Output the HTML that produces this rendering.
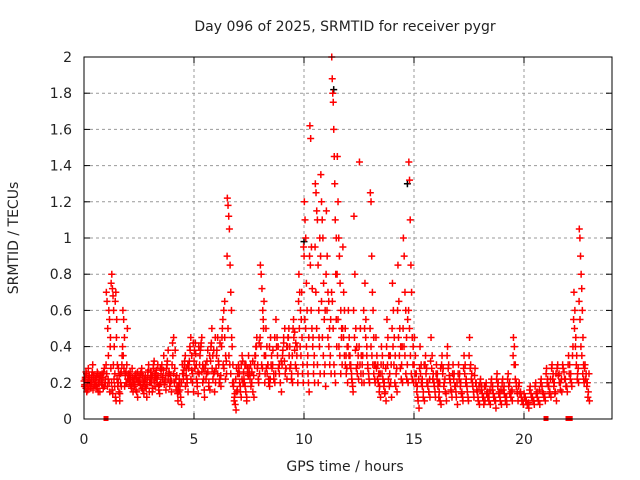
<!DOCTYPE html>
<html><head><meta charset="utf-8"><style>
body{margin:0;background:#fff}
svg{display:block;font-family:"DejaVu Sans","Liberation Sans",sans-serif}
</style></head><body>
<svg id="chart" width="640" height="480" viewBox="0 0 640 480">
<rect width="640" height="480" fill="#fff"/>
<g id="grid"></g>
<g id="black"></g>
<g id="red"></g>
<rect x="84" y="57" width="528" height="362" fill="none" stroke="#000" stroke-width="1"/>
<g id="ticks"></g>
<text x="345" y="31" font-size="14" text-anchor="middle" fill="#222">Day 096 of 2025, SRMTID for receiver pygr</text>
<text x="345" y="471" font-size="14" text-anchor="middle" fill="#222">GPS time / hours</text>
<text x="18" y="238" font-size="14" text-anchor="middle" fill="#222" transform="rotate(-90 18 238)">SRMTID / TECUs</text>
</svg>
<script>
const binWidth = 0.25;
const redBins = [
".18 .22 .26 .15 .2 .28 .24",".2 .17 .24 .3 .22 .19",".22 .18 .26 .15 .2 .24",".2 .25 .17 .28 .22",
".7 .65 .5 .35 .2 .15 .45 .75",".8 .72 .68 .6 .4 .25 .12 .1 .55",".3 .2 .15 .1 .25 .18 .35",".6 .55 .45 .25 .2 .3 .22",
".25 .2 .22 .18 .28 .15",".22 .19 .25 .15 .12 .2",".2 .25 .28 .16 .22",".18 .22 .12 .26 .3 .2",
".2 .24 .15 .28 .32 .18",".25 .22 .3 .18 .14 .2",".28 .22 .35 .2 .16",".3 .38 .25 .2 .15",
".42 .45 .28 .22 .18",".1 .15 .2 .12 .08 .25",".22 .3 .35 .28 .2 .15",".3 .4 .45 .35 .25 .15",
".38 .42 .3 .2 .14 .25",".35 .4 .45 .3 .22 .12",".3 .25 .38 .2 .16",".4 .5 .35 .25 .15 .2",
".35 .45 .3 .22 .18",".45 .55 .6 .65 .35 .25","1.22 1.18 1.12 1.05 .85 .7 .6 .4",".3 .2 .12 .08 .05 .15 .25",
".3 .25 .18 .12 .35 .2",".22 .3 .15 .1 .25 .35",".25 .3 .2 .15 .12",".35 .4 .45 .3 .2 .25",
".85 .8 .72 .6 .5 .35 .25",".5 .4 .3 .22 .18 .45",".35 .3 .25 .2 .55",".45 .4 .3 .2 .15",
".35 .42 .5 .28 .22",".45 .5 .4 .3 .25 .2",".55 .48 .42 .35 .25",".8 .7 .6 .55 .45 .3 .95",
"1.2 1.1 1.0 .75 .6 .35 .2 .15","1.62 1.55 .95 .72 .45 .3 .2","1.3 1.25 1.15 1.1 .85 .6 .4 .25","1.35 1.2 1.1 1.0 .75 .55 .3 .18",
"1.15 .9 .7 .65 .5 .35 .25","2.0 1.88 1.8 1.75 1.6 1.45 1.3 1.1 .8 .55 .4","1.45 1.2 1.0 .9 .75 .6 .45 .3",".95 .7 .6 .5 .35 .28 .2",
".6 .45 .35 .3 .25 .2 .15","1.12 .8 .5 .4 .3 .22","1.42 .5 .35 .3 .25 .2",".75 .55 .4 .3 .25 .2",
"1.25 1.2 .9 .7 .6 .45 .3 .2",".45 .35 .3 .25 .18 .12",".4 .35 .3 .2 .15 .1",".55 .45 .35 .25 .2 .12",
".75 .6 .45 .35 .25 .15",".85 .65 .5 .4 .3 .2","1.0 .9 .7 .6 .45 .3 .2","1.42 1.32 1.1 .85 .7 .45 .3 .2",
".45 .35 .25 .18 .1 .06",".4 .3 .22 .15 .1",".35 .28 .2 .15 .12",".45 .35 .25 .18 .12",
".3 .25 .2 .15 .1 .08",".35 .28 .2 .15 .1",".4 .3 .22 .16 .12",".3 .25 .18 .12 .08",
".3 .25 .2 .15 .1",".35 .3 .22 .15 .1",".45 .3 .25 .18 .12",".28 .2 .15 .1 .08",
".22 .18 .12 .08 .1",".2 .15 .12 .08",".22 .18 .12 .1 .06",".25 .2 .15 .1 .08",
".22 .18 .12 .08",".25 .2 .15 .1",".45 .4 .3 .2 .15 .1",".2 .15 .1 .08",
".12 .1 .08 .06",".18 .12 .1 .08",".2 .15 .1 .08",".22 .15 .12 .1",
".28 .22 .18 .15 .12",".3 .25 .2 .15 .1",".3 .25 .2 .15",".28 .22 .18 .15",
".35 .3 .25 .18 .4",".7 .6 .45 .35 .25 .2","1.05 1.0 .9 .8 .72 .6 .45 .3 .2",".3 .25 .2 .15 .1"
];
/* additional dense readings in the main band, same 0.25 h bins */
const redBins2 = [
".21 .19 .23 .17 .25 .2 .16 .22 .18",".23 .2 .18 .21 .26 .16 .24 .19",".19 .21 .23 .17 .25 .2 .22 .15",".24 .21 .19 .23 .26 .18 .2",
".3 .25 .18 .22 .6 .55 .4 .28",".2 .16 .14 .3 .22 .18 .65 .7 .45",".22 .18 .28 .24 .14 .2 .26 .3",".4 .35 .28 .18 .24 .26 .2 .5",
".22 .24 .2 .26 .19 .17 .23 .21",".2 .18 .24 .16 .22 .26 .21",".23 .21 .19 .26 .17 .24 .2 .14",".21 .24 .17 .19 .23 .27 .15",
".22 .26 .2 .24 .17 .3 .21 .25",".23 .27 .2 .24 .16 .19 .28",".25 .3 .23 .27 .19 .21 .24",".28 .32 .22 .26 .18 .24 .21",
".3 .35 .25 .2 .38 .16 .24",".14 .18 .22 .16 .12 .2 .3",".25 .27 .32 .18 .24 .22 .3",".28 .32 .38 .22 .27 .2 .42",
".32 .28 .36 .22 .18 .26 .4",".3 .38 .42 .26 .2 .28 .16",".28 .22 .32 .26 .18 .35",".32 .42 .28 .22 .38 .26 .45",
".28 .38 .25 .32 .2 .42 .24",".4 .5 .3 .28 .45 .22 .32",".9 .5 .35 .3 .25 .45",".2 .18 .1 .14 .22 .28 .16",
".25 .28 .2 .15 .3 .22 .32",".26 .2 .18 .3 .12 .28 .24",".28 .22 .18 .26 .32 .24",".3 .35 .4 .28 .22 .42",
".45 .4 .3 .28 .55 .65 .2",".35 .28 .25 .3 .2 .4 .22",".3 .28 .38 .22 .45 .25",".4 .35 .28 .25 .2 .32",
".3 .38 .45 .32 .25 .28 .4",".4 .45 .35 .28 .3 .22 .35",".5 .45 .38 .3 .28 .4 .2",".65 .5 .4 .35 .7 .25 .2",
".9 .55 .5 .4 .3 .25 .45",".9 .85 .6 .5 .4 .25 .35",".95 .7 .5 .3 .2 .45 1.0",".9 .65 .45 .35 .25 .6",
".8 .6 .45 .4 .3 .55",".7 .65 .5 .3 .25 .2 1.0",".8 .55 .4 .35 .25 .5",".5 .45 .35 .3 .25 .4",
".4 .35 .3 .28 .22 .18",".6 .45 .38 .28 .25 .35",".4 .3 .25 .2 .35 .6",".5 .45 .35 .28 .22",
".5 .4 .35 .3 .25 .22",".3 .28 .22 .2 .15 .25",".3 .25 .22 .18 .14 .28",".4 .3 .22 .18 .35 .3",
".5 .4 .3 .2 .18 .28",".6 .45 .35 .28 .22 .4",".5 .4 .35 .25 .22 .55",".6 .5 .35 .25 .22 .4",
".3 .25 .2 .15 .12 .22",".28 .25 .2 .18 .12 .3",".3 .25 .2 .18 .15 .22",".32 .28 .22 .2 .15",
".25 .22 .18 .12 .2 .28",".3 .25 .18 .22 .14",".35 .28 .24 .2 .15",".25 .22 .18 .15 .2",
".25 .22 .18 .14 .12",".28 .25 .2 .18 .12",".35 .28 .22 .2 .15",".24 .2 .16 .12 .18",
".2 .16 .14 .12 .18",".18 .14 .12 .1 .16",".2 .16 .14 .12 .1",".22 .18 .14 .12 .16",
".2 .16 .14 .1 .12",".22 .18 .14 .12 .16",".35 .3 .22 .18 .14",".18 .14 .12 .1",
".14 .12 .1 .08 .09",".16 .14 .12 .1",".18 .14 .12 .1 .16",".2 .18 .14 .12",
".25 .2 .18 .14 .22",".28 .22 .18 .14 .25",".28 .24 .2 .16 .22",".3 .26 .22 .18",
".3 .25 .22 .2 .35",".55 .5 .4 .3 .22 .28",".65 .55 .4 .35 .25 .22",".28 .22 .18 .12 .25"
];
const blackTimes = [10.0,11.35,14.7];
const blackVals = [0.98,1.82,1.3];
const squareTimes = [1.0,21.0,22.0,22.1];
const xTicks = [0,5,10,15,20];
const yTicks = [0,0.2,0.4,0.6,0.8,1,1.2,1.4,1.6,1.8,2];
const yTickLabels = ["0","0.2","0.4","0.6","0.8","1","1.2","1.4","1.6","1.8","2"];

const X = t => 84 + t/24*528;
const Y = v => 419 - v/2*362;
const NS = "http://www.w3.org/2000/svg";
function mk(tag, attrs, parent){const e=document.createElementNS(NS,tag);for(const k in attrs)e.setAttribute(k,attrs[k]);parent.appendChild(e);return e;}
const grid=document.getElementById('grid'), ticks=document.getElementById('ticks');
xTicks.forEach(t=>{
  if(t>0){const l=mk('line',{x1:X(t),x2:X(t),y1:57,y2:419,stroke:'#999','stroke-dasharray':'3,3'},grid);
  
  }
  mk('line',{x1:X(t),x2:X(t),y1:419,y2:413,stroke:'#000'},ticks);
  mk('line',{x1:X(t),x2:X(t),y1:57,y2:63,stroke:'#000'},ticks);
  const tx=mk('text',{x:X(t),y:444,'font-size':14,'text-anchor':'middle',fill:'#222'},ticks);tx.textContent=t;
  
  
});
yTicks.forEach((v,i)=>{
  if(v>0&&v<2){const l=mk('line',{x1:84,x2:612,y1:Y(v),y2:Y(v),stroke:'#999','stroke-dasharray':'3,3'},grid);
  
  }
  mk('line',{x1:84,x2:90,y1:Y(v),y2:Y(v),stroke:'#000'},ticks);
  mk('line',{x1:606,x2:612,y1:Y(v),y2:Y(v),stroke:'#000'},ticks);
  const tx=mk('text',{x:72,y:Y(v)+5,'font-size':14,'text-anchor':'end',fill:'#222'},ticks);tx.textContent=yTickLabels[i];
  
  
});
function plus(g,t,v,col){
  const x=X(t),y=Y(v);
  const p=mk('path',{d:`M${x-3.5},${y}H${x+3.5}M${x},${y-3.5}V${y+3.5}`,stroke:col,'stroke-width':1.5,fill:'none'},g);
  
  
}
const black=document.getElementById('black'), red=document.getElementById('red');
blackTimes.forEach((t,i)=>plus(black,t,blackVals[i],'#000'));
function drawBins(bins, phase){
  bins.forEach((s,b)=>{
    const vals=s.trim().split(/\s+/).map(Number);
    vals.forEach((v,j)=>{const t=b*binWidth+((j+phase)/vals.length)*binWidth;plus(red,t,v,'#f00');});
  });
}
drawBins(redBins,0.5);
drawBins(redBins2,0.1);
squareTimes.forEach(t=>{
  const r=mk('rect',{x:X(t)-2.5,y:416,width:5,height:5,fill:'#f00'},red);
  
  
});
</script>
</body></html>
